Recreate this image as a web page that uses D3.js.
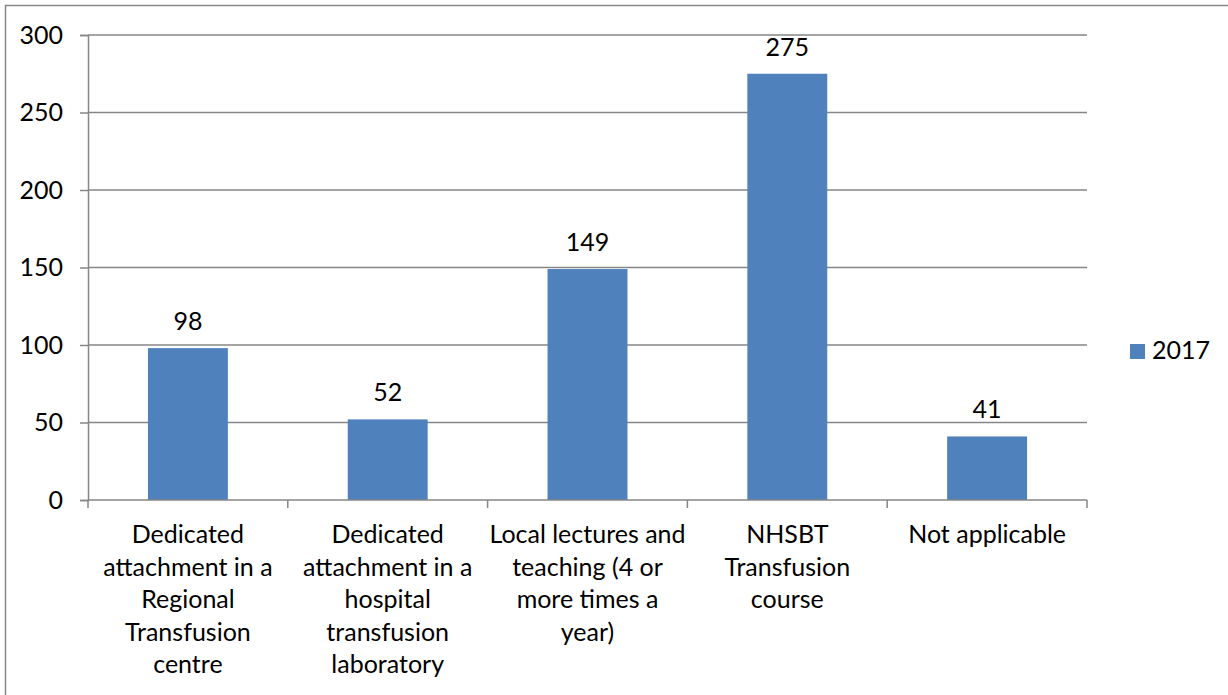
<!DOCTYPE html>
<html>
<head>
<meta charset="utf-8">
<script src="https://cdn.jsdelivr.net/npm/d3@7"></script>
<style>
  body { margin: 0; background: #fff; }
  svg { display: block; font-family: Lato, "Noto Sans", sans-serif; }
</style>
</head>
<body>
<svg width="1228" height="695"></svg>
<script>
// Data
var categories = [
  ["Dedicated", "attachment in a", "Regional", "Transfusion", "centre"],
  ["Dedicated", "attachment in a", "hospital", "transfusion", "laboratory"],
  ["Local lectures and", "teaching (4 or", "more times a", "year)"],
  ["NHSBT", "Transfusion", "course"],
  ["Not applicable"]
];
var values = [98, 52, 149, 275, 41];
var yTicks = [0, 50, 100, 150, 200, 250, 300];
var seriesName = "2017";

var svg = d3.select("svg");
var fontSize = 25;
var grey = "#868686";
var blue = "#4F81BD";

// chart frame
svg.append("rect")
  .attr("x", 5.5).attr("y", 5.5)
  .attr("width", 1240).attr("height", 710)
  .attr("fill", "none")
  .attr("stroke", grey)
  .attr("stroke-width", 1.5);

var plotLeft = 88, plotRight = 1087, plotTop = 35, plotBottom = 500;

var x = d3.scaleBand()
  .domain(d3.range(categories.length))
  .range([plotLeft, plotRight])
  .paddingInner(0.6)
  .paddingOuter(0.3);

var y = d3.scaleLinear()
  .domain([0, 300])
  .range([plotBottom, plotTop]);

// y ticks
var yAxis = svg.append("g")
  .attr("transform", "translate(" + plotLeft + ",0)")
  .call(d3.axisLeft(y).tickValues(yTicks).tickSize(8).tickPadding(17));
yAxis.select(".domain").attr("stroke", grey).attr("stroke-width", 1.5);
yAxis.selectAll(".tick line").attr("stroke", grey).attr("stroke-width", 1.5);
yAxis.selectAll(".tick text")
  .attr("fill", "#000")
  .style("font-size", fontSize + "px")
  .style("font-family", "Lato, 'Noto Sans', sans-serif");

// gridlines
svg.append("g")
  .selectAll("line")
  .data(yTicks.filter(function(d) { return d > 0; }))
  .enter()
  .append("line")
    .attr("x1", plotLeft).attr("x2", plotRight)
    .attr("y1", function(d) { return y(d); })
    .attr("y2", function(d) { return y(d); })
    .attr("stroke", grey)
    .attr("stroke-width", 1.5);

// bars
svg.append("g")
  .selectAll("rect")
  .data(values)
  .enter()
  .append("rect")
    .attr("x", function(d, i) { return x(i); })
    .attr("y", function(d) { return y(d); })
    .attr("width", x.bandwidth())
    .attr("height", function(d) { return y(0) - y(d); })
    .attr("fill", blue);

// x axis line and category ticks
var step = (plotRight - plotLeft) / categories.length;
svg.append("line")
  .attr("x1", plotLeft).attr("x2", plotRight)
  .attr("y1", plotBottom).attr("y2", plotBottom)
  .attr("stroke", grey).attr("stroke-width", 1.5);
svg.append("g")
  .selectAll("line")
  .data(d3.range(categories.length + 1))
  .enter()
  .append("line")
    .attr("x1", function(d) { return plotLeft + d * step; })
    .attr("x2", function(d) { return plotLeft + d * step; })
    .attr("y1", plotBottom).attr("y2", plotBottom + 8)
    .attr("stroke", grey).attr("stroke-width", 1.5);

// value labels
svg.append("g")
  .selectAll("text")
  .data(values)
  .enter()
  .append("text")
    .attr("x", function(d, i) { return x(i) + x.bandwidth() / 2; })
    .attr("y", function(d) { return y(d) - 18; })
    .attr("text-anchor", "middle")
    .style("font-size", fontSize + "px")
    .text(function(d) { return d; });

// category labels
var catLabels = svg.append("g")
  .selectAll("text")
  .data(categories)
  .enter()
  .append("text")
    .attr("text-anchor", "middle")
    .style("font-size", fontSize + "px")
    .attr("transform", function(d, i) {
      return "translate(" + (x(i) + x.bandwidth() / 2) + "," + 543 + ")";
    });
catLabels.selectAll("tspan")
  .data(function(d) { return d; })
  .enter()
  .append("tspan")
    .attr("x", 0)
    .attr("y", function(d, i) { return i * 32.5; })
    .text(function(d) { return d; });

// legend
var legend = svg.append("g").attr("transform", "translate(1130,344)");
legend.append("rect")
  .attr("width", 15).attr("height", 15)
  .attr("fill", blue);
legend.append("text")
  .attr("x", 22).attr("y", 15)
  .style("font-size", fontSize + "px")
  .text(seriesName);
</script>
</body>
</html>
